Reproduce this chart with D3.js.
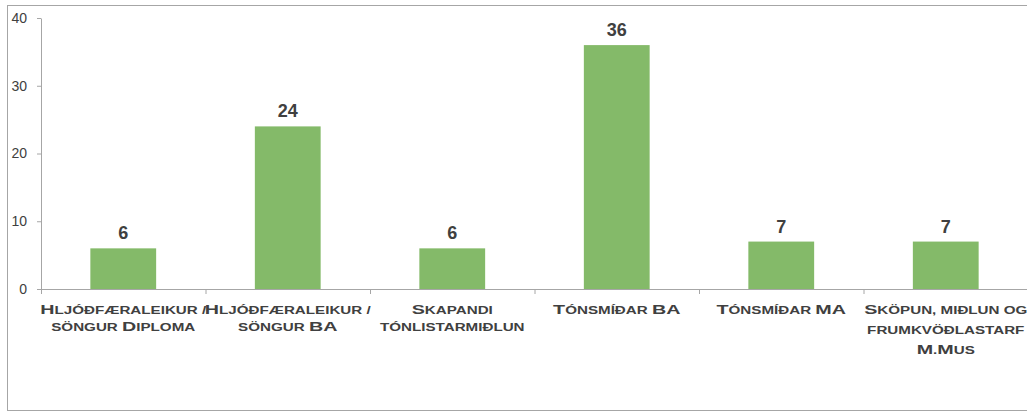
<html>
<head>
<script src="https://d3js.org/d3.v7.min.js"></script>
<style>
  body { margin: 0; background: white; }
  .y.axis .domain, .y.axis line { stroke: #a6a6a6; }
  .catlabel { font-family: "Liberation Sans", Arial, sans-serif; font-weight: bold; fill: #404040; }
</style>
</head>
<body>
<svg id="chart" width="1027" height="412"></svg>
<script>
// data
const categories = ["Hljóðfæraleikur / söngur Diploma", "Hljóðfæraleikur / söngur BA", "Skapandi tónlistarmiðlun",
                    "Tónsmíðar BA", "Tónsmíðar MA", "Sköpun, miðlun og frumkvöðlastarf M.Mus"];
const counts = [6, 24, 6, 36, 7, 7];
const labelLines = [
  ["Hljóðfæraleikur /", "söngur Diploma"],
  ["Hljóðfæraleikur /", "söngur BA"],
  ["Skapandi", "tónlistarmiðlun"],
  ["Tónsmíðar BA"],
  ["Tónsmíðar MA"],
  ["Sköpun, miðlun og", "frumkvöðlastarf", "M.Mus"]
];
const yTicks = [0, 10, 20, 30, 40];

const svg = d3.select("#chart");

// outer frame
svg.append("rect")
  .attr("x", 7.5).attr("y", 5.5)
  .attr("width", 1030).attr("height", 405)
  .attr("fill", "none").attr("stroke", "#a6a6a6");

const x = d3.scaleBand().domain(categories)
  .range([41, 1028])
  .paddingInner(0.6)
  .paddingOuter(0.3);

const y = d3.scaleLinear().domain([0, 40]).range([289, 18]);

// y axis
const yAxis = svg.append("g")
  .attr("class", "y axis")
  .attr("transform", "translate(41,0)")
  .call(d3.axisLeft(y).tickValues(yTicks).tickSize(4).tickPadding(10).tickSizeOuter(0));
yAxis.selectAll("text")
  .style("font-size", "14px")
  .attr("font-family", "Liberation Sans, Arial, sans-serif")
  .attr("fill", "#404040");

// bars
svg.selectAll("rect.bar").data(counts)
  .join("rect")
  .attr("class", "bar")
  .attr("x", (d, i) => x(categories[i]))
  .attr("y", d => y(d))
  .attr("width", x.bandwidth())
  .attr("height", d => y(0) - y(d))
  .attr("fill", "#84ba69");

// x axis line + category boundary ticks
const x0 = x.range()[0];
svg.append("line")
  .attr("x1", x0).attr("x2", x.range()[1])
  .attr("y1", y(0) + 0.5).attr("y2", y(0) + 0.5)
  .attr("stroke", "#a6a6a6");
svg.selectAll("line.xtick").data(d3.range(categories.length + 1))
  .join("line")
  .attr("class", "xtick")
  .attr("x1", i => x0 + i * x.step() + 0.5)
  .attr("x2", i => x0 + i * x.step() + 0.5)
  .attr("y1", y(0)).attr("y2", y(0) + 5)
  .attr("stroke", "#a6a6a6");

// value labels
svg.selectAll("text.val").data(counts)
  .join("text")
  .attr("class", "val")
  .attr("x", (d, i) => x(categories[i]) + x.bandwidth() / 2)
  .attr("y", d => y(d) - 9)
  .attr("text-anchor", "middle")
  .attr("font-family", "Liberation Sans, Arial, sans-serif")
  .attr("font-weight", "bold")
  .attr("font-size", "18px")
  .attr("fill", "#404040")
  .text(d => d);

// category labels, drawn as hand-made small caps
function smallCaps(sel, str) {
  // split into runs of upper-case vs other chars
  const runs = str.match(/([A-ZÁÉÍÓÚÝÞÆÖÐ]+|[^A-ZÁÉÍÓÚÝÞÆÖÐ]+)/g) || [];
  runs.forEach(r => {
    const big = r === r.toUpperCase() && r !== r.toLowerCase();
    sel.append("tspan")
      .attr("font-size", big ? "13px" : "10px")
      .text(r.toUpperCase());
  });
}

const catG = svg.selectAll("text.catlabel").data(labelLines)
  .join("text")
  .attr("class", "catlabel")
  .attr("text-anchor", "middle");
catG.each(function(lines, i) {
  const t = d3.select(this);
  const gap = lines.length > 2 ? 20 : 17;
  lines.forEach((ln, j) => {
    const row = t.append("tspan").attr("x", 0).attr("y", 314 + j * gap);
    smallCaps(row, ln);
  });
});
// the source font is rendered wide; stretch labels to match
const firstRow = catG.node().querySelector("tspan");
const natural = firstRow.getComputedTextLength();
const sx = 166 / natural;
catG.attr("transform", (d, i) => `translate(${x(categories[i]) + x.bandwidth() / 2},0) scale(${sx},1)`);
</script>
</body>
</html>
